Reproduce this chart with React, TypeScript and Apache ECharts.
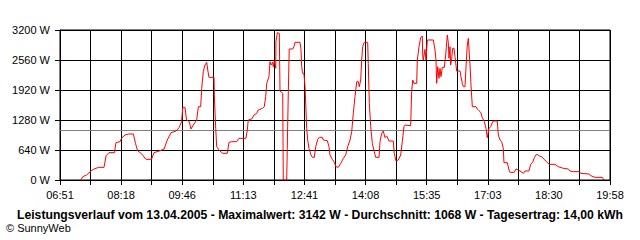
import React, { useEffect, useRef } from "react";
import * as echarts from "echarts";

// X axis: minutes of the day, from 06:51 to 19:58
const START_MIN = 411; // 06:51
const END_MIN = 1198; // 19:58
const tickLabels = ["06:51", "08:18", "09:46", "11:13", "12:41", "14:08", "15:35", "17:03", "18:30", "19:58"];
const yTicks = [0, 640, 1280, 1920, 2560, 3200];
const averageW = 1068;
const titleText =
  "Leistungsverlauf vom 13.04.2005 - Maximalwert: 3142 W - Durchschnitt: 1068 W - Tagesertrag: 14,00 kWh";
const copyrightText = "© SunnyWeb";

// sample times (minutes of day)
const times = [
  441, 443.5, 449, 456, 459, 466, 474, 477, 481, 489, 491, 497, 499, 504, 509, 516, 519, 522, 528, 534, 542, 545.5,
  553, 560, 564.5, 570, 577, 581.7, 585, 586.6, 590, 592, 596, 598.4, 601.7, 606.6, 609, 612.3, 613.8, 616, 618.5,
  621, 622.4, 624.2, 631.4, 631.8, 633.8, 635.2, 638.5, 643.8, 650.4, 652.8, 656.7, 663.8, 667, 677, 679, 680.4,
  685.3, 688.6, 692.5, 694.7, 701, 703.3, 705.3, 706.8, 710, 711.5, 713, 715.4, 716.2, 717.6, 719.7, 720, 722,
  724.8, 725.8, 729.7, 730.5, 735.4, 736.2, 737.7, 739, 744, 745.8, 747.3, 754.4, 755.8, 756.8, 758.3, 760, 761.6,
  763, 764, 765.4, 767.3, 770.2, 772, 774.9, 776.9, 779.8, 782, 786.3, 787.8, 793.5, 795.9, 797.3, 800.6, 803.5,
  805.9, 809.2, 812.7, 816.4, 819.8, 822.7, 826, 828.4, 830.7, 833.1, 835.6, 837.8, 839.3, 841.3, 842.7, 844.1,
  846.4, 851.3, 852.1, 853.6, 855.6, 857.9, 860.7, 862.7, 867.5, 868.9, 871.3, 873.6, 876, 878.5, 881.8, 887.9,
  889.3, 891.8, 895.1, 898.5, 900.8, 903.2, 904.7, 912.8, 913.2, 914.2, 915.7, 917.5, 921.4, 922.3, 924.7, 927.1,
  929.4, 930, 930.8, 933.3, 934.7, 936.6, 945.2, 947.6, 949, 950, 951.5, 953.3, 954.7, 956.2, 958, 960.9, 962.9,
  965.2, 966.6, 967.6, 969.1, 970, 971.5, 972.9, 974.8, 976.2, 977.6, 978.6, 983.4, 984.8, 986.7, 988.1, 990.5,
  992, 993.8, 995.3, 996.3, 997.7, 999.1, 1001, 1006.3, 1008.1, 1010.5, 1013, 1015.3, 1018.1, 1020.6, 1022.4,
  1024.9, 1027.3, 1030.2, 1032, 1036.7, 1038.2, 1040.6, 1043, 1045.3, 1046.3, 1051.1, 1053.5, 1055, 1061, 1063.5,
  1066.8, 1070.7, 1074, 1076.4, 1082, 1084.5, 1087.4, 1089.7, 1092, 1094, 1096.8, 1100.3, 1103.6, 1107.4, 1110.7,
  1119.3, 1124, 1131.2, 1138.3, 1140.8, 1145.5, 1154, 1156, 1168.4, 1170.4, 1176.5, 1187, 1189.4,
];

// power in W
const watts = [
  0, 70, 107, 200, 228, 270, 270, 520, 583, 583, 797, 818, 889, 960, 981, 981, 782, 626, 555, 441, 441, 583, 619,
  661, 853, 1010, 1045, 1124, 1245, 1543, 1543, 1280, 1245, 1088, 1173, 1280, 1564, 1564, 1956, 2310, 2453, 2510,
  2347, 2190, 2190, 1813, 1102, 711, 640, 569, 569, 803, 818, 818, 889, 889, 1067, 1280, 1301, 1387, 1422, 1493,
  1529, 1564, 1777, 2062, 2204, 2524, 2453, 2510, 2417, 2538, 2382, 2950, 3142, 3129, 1900, 1849, 0, 0, 675, 1884,
  2795, 2795, 2844, 2937, 2937, 2795, 2417, 2276, 2276, 1991, 1493, 1102, 853, 675, 533, 484, 484, 711, 868, 910,
  910, 853, 839, 711, 533, 441, 377, 284, 270, 356, 462, 533, 711, 853, 1031, 1422, 1777, 2098, 2098, 1991, 2133,
  2560, 2844, 2937, 2937, 2489, 1636, 1138, 782, 604, 484, 484, 818, 995, 1045, 903, 939, 832, 832, 569, 405, 427,
  533, 818, 1138, 1173, 1159, 1387, 1884, 2133, 2062, 2062, 2560, 2844, 3036, 3072, 2667, 2560, 2788, 2560, 2987,
  2987, 2773, 2560, 2062, 2417, 2169, 2382, 2204, 2403, 2403, 2667, 3093, 2937, 2596, 2844, 2453, 2596, 2809, 2809,
  2631, 2453, 2325, 2325, 2204, 2062, 1991, 1991, 2417, 2880, 3022, 2773, 2453, 2027, 1564, 1564, 1515, 1479, 1444,
  1330, 1245, 1102, 903, 1102, 1138, 1245, 1259, 1259, 960, 853, 818, 675, 370, 370, 213, 164, 164, 235, 213, 178,
  142, 192, 192, 334, 377, 476, 533, 548, 512, 498, 441, 391, 334, 334, 284, 249, 235, 192, 178, 178, 142, 128, 92,
  57, 57, 0,
];

const FONT = "Arial, 'Liberation Sans', sans-serif";

export default function App() {
  const ref = useRef<HTMLDivElement>(null);

  useEffect(() => {
    if (!ref.current) return;
    const chart = echarts.init(ref.current, undefined, { renderer: "svg" });
    const span = END_MIN - START_MIN;
    const step = span / ((tickLabels.length - 1) * 2);
    const data = times.map((t, i) => [t - START_MIN, watts[i]]);

    chart.setOption({
      animation: false,
      backgroundColor: "#ffffff",
      grid: {
        left: 60,
        right: 30,
        top: 30,
        bottom: 60,
        show: true,
        borderColor: "#000",
        borderWidth: 1,
        backgroundColor: "transparent",
      },
      xAxis: {
        type: "value",
        min: 0,
        max: span,
        interval: step,
        axisLine: { show: true, lineStyle: { color: "#000", width: 1 } },
        axisTick: { show: true, length: 5, lineStyle: { color: "#000", width: 1 } },
        splitLine: { show: true, lineStyle: { color: "#000", width: 1 } },
        axisLabel: {
          color: "#000",
          fontSize: 11,
          fontFamily: FONT,
          margin: 9,
          showMinLabel: true,
          showMaxLabel: true,
          formatter: (v: number) => {
            const idx = Math.round(v / step);
            if (idx % 2 !== 0) return "";
            return tickLabels[idx / 2] ?? "";
          },
        },
      },
      yAxis: {
        type: "value",
        min: yTicks[0],
        max: yTicks[yTicks.length - 1],
        interval: yTicks[1] - yTicks[0],
        axisLine: { show: true, lineStyle: { color: "#000", width: 1 } },
        axisTick: { show: true, length: 5, lineStyle: { color: "#000", width: 1 } },
        splitLine: { show: true, lineStyle: { color: "#000", width: 1 } },
        axisLabel: {
          color: "#000",
          fontSize: 11,
          fontFamily: FONT,
          margin: 10,
          formatter: (v: number) => `${v} W`,
        },
      },
      series: [
        {
          type: "line",
          data,
          symbol: "none",
          lineStyle: { color: "#ff0000", width: 1 },
          z: 5,
          markLine: {
            silent: true,
            symbol: "none",
            label: { show: false },
            lineStyle: { color: "#808080", type: "solid", width: 1 },
            data: [{ yAxis: averageW }],
          },
        },
      ],
      graphic: [
        {
          type: "text",
          left: 17,
          top: 209,
          style: { text: titleText, font: `bold 12.2px ${FONT}`, fill: "#000" },
        },
        {
          type: "text",
          left: 6,
          top: 222,
          style: { text: copyrightText, font: `11px ${FONT}`, fill: "#000" },
        },
      ],
    });

    return () => chart.dispose();
  }, []);

  return (
    <div
      ref={ref}
      style={{ position: "fixed", left: 0, top: 0, width: 640, height: 240, background: "#fff" }}
    />
  );
}
